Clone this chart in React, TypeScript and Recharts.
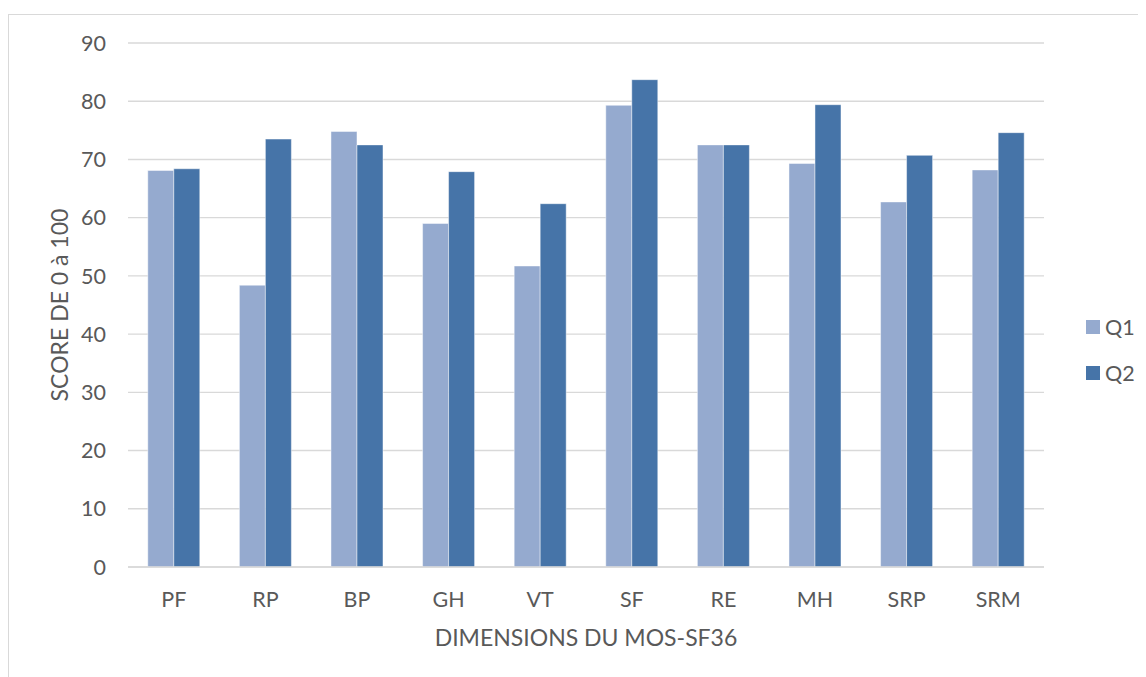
import React from 'react';
import { BarChart, Bar, XAxis, YAxis, CartesianGrid, Legend } from 'recharts';

// MOS-SF36 dimension scores (0–100) for the two questionnaires
const dimensions = ['PF', 'RP', 'BP', 'GH', 'VT', 'SF', 'RE', 'MH', 'SRP', 'SRM'];
const q1Scores = [68.1, 48.4, 74.8, 59.0, 51.7, 79.3, 72.5, 69.3, 62.7, 68.2];
const q2Scores = [68.4, 73.5, 72.5, 67.9, 62.4, 83.7, 72.5, 79.4, 70.7, 74.6];
const scoreTicks = [0, 10, 20, 30, 40, 50, 60, 70, 80, 90];
const seriesNames = ['Q1', 'Q2'];
const seriesColors = ['#95AACF', '#4674A8'];

const xTitle = 'DIMENSIONS DU MOS-SF36';
const yTitle = 'SCORE DE 0 à 100';

const FONT = 'Lato, "Open Sans", sans-serif';
const TEXT = '#595959';
const GRID = '#d9d9d9';
const TICK_SIZE = 21.5;
const TITLE_SIZE = 23;

const data = dimensions.map((dim, i) => ({
  dim,
  [seriesNames[0]]: q1Scores[i],
  [seriesNames[1]]: q2Scores[i],
}));

const XTitle = (props: any) => {
  const { x, y, width } = props.viewBox;
  return (
    <text x={x + width / 2} y={y + 79} textAnchor="middle" fill={TEXT} fontSize={TITLE_SIZE} fontFamily={FONT}>
      {xTitle}
    </text>
  );
};

const YTitle = (props: any) => {
  const { y, height } = props.viewBox;
  const cx = 60;
  const cy = y + height / 2;
  return (
    <text
      x={cx}
      y={cy}
      transform={`rotate(-90 ${cx} ${cy})`}
      textAnchor="middle"
      fill={TEXT}
      fontSize={TITLE_SIZE}
      fontFamily={FONT}
    >
      {yTitle}
    </text>
  );
};

const LegendContent = (props: any) => {
  const items = props.payload || [];
  return (
    <div style={{ fontFamily: FONT, fontSize: TICK_SIZE, color: TEXT }}>
      {items.map((it: any) => (
        <div key={it.value} style={{ display: 'flex', alignItems: 'center', height: 46 }}>
          <span style={{ display: 'inline-block', width: 14, height: 14, background: it.color, marginRight: 5 }} />
          <span>{it.value}</span>
        </div>
      ))}
    </div>
  );
};

export default function App() {
  return (
    <div style={{ position: 'relative', width: 1138, height: 669, overflow: 'hidden', background: '#fff' }}>
      <div
        style={{
          position: 'absolute',
          left: 0,
          top: 6,
          width: 1400,
          height: 900,
          border: `1px solid ${GRID}`,
          boxSizing: 'border-box',
        }}
      />
      <BarChart
        width={1138}
        height={669}
        data={data}
        margin={{ top: 35, right: 102, left: 0, bottom: 20 }}
        barCategoryGap="21.6%"
        barGap={0}
        style={{ position: 'absolute', left: 0, top: 0 }}
      >
        <CartesianGrid vertical={false} stroke={GRID} strokeWidth={1.4} />
        <XAxis
          dataKey="dim"
          height={90}
          axisLine={{ stroke: GRID, strokeWidth: 1.4 }}
          tickLine={false}
          tickSize={0}
          tickMargin={25}
          tick={{ fill: TEXT, fontSize: TICK_SIZE, fontFamily: FONT }}
          label={<XTitle />}
        />
        <YAxis
          width={120}
          domain={[0, 90]}
          ticks={scoreTicks}
          axisLine={false}
          tickLine={false}
          tickSize={0}
          tickMargin={22}
          tick={{ fill: TEXT, fontSize: TICK_SIZE, fontFamily: FONT }}
          label={<YTitle />}
        />
        <Legend
          layout="vertical"
          align="center"
          verticalAlign="middle"
          wrapperStyle={{ left: 1078, top: 296, width: 60 }}
          content={<LegendContent />}
        />
        {seriesNames.map((name, i) => (
          <Bar
            key={name}
            dataKey={name}
            fill={seriesColors[i]}
            stroke="#ffffff"
            strokeOpacity={0.45}
            strokeWidth={1}
            isAnimationActive={false}
          />
        ))}
      </BarChart>
    </div>
  );
}
